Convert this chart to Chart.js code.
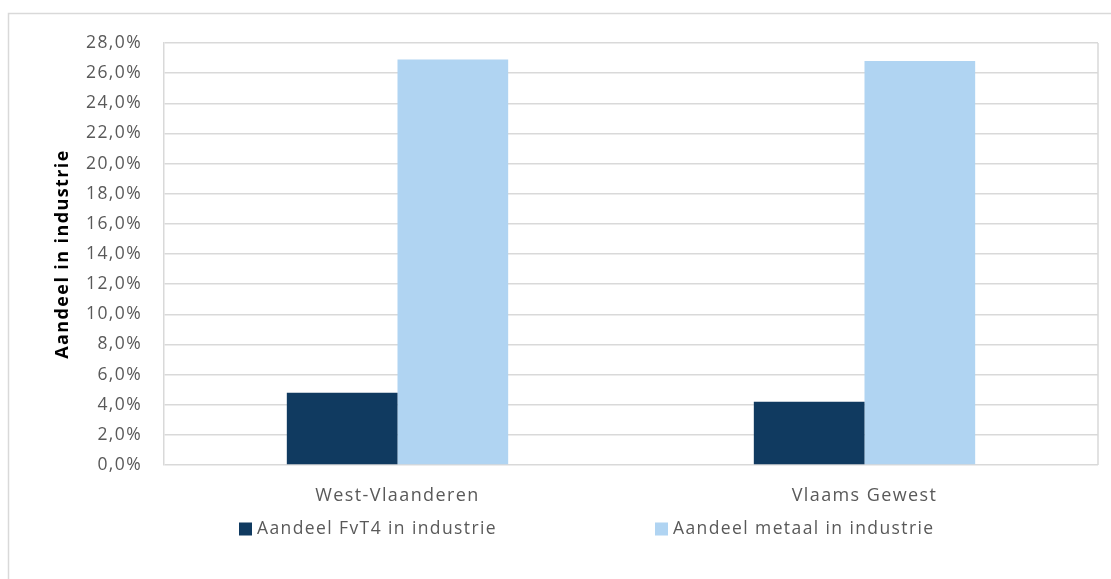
<!DOCTYPE html>
<html>
<head>
<meta charset="utf-8">
<script src="https://cdn.jsdelivr.net/npm/chart.js@4.4.1/dist/chart.umd.min.js"></script>
<style>
  html, body { margin: 0; padding: 0; background: #ffffff; }
  #wrap { position: relative; width: 1111px; height: 579px; }
</style>
</head>
<body>
<div id="wrap"><canvas id="c" width="1111" height="579"></canvas></div>
<script>
// Regions compared
const categories = ['West-Vlaanderen', 'Vlaams Gewest'];
// Share of FvT4 within industry (%)
const fvt4Share = [4.8, 4.2];
// Share of metal within industry (%)
const metalShare = [26.9, 26.8];
const seriesNames = ['Aandeel FvT4 in industrie', 'Aandeel metaal in industrie'];
const yTicks = [0, 2, 4, 6, 8, 10, 12, 14, 16, 18, 20, 22, 24, 26, 28];
const yTitle = 'Aandeel in industrie';

const FONT = '"Open Sans", Lato, sans-serif';
const GRID = '#d9d9d9';
const TEXT = '#595959';
const COLORS = ['#103a60', '#b0d4f2'];

// Outer chart frame, right border of the plot and the bottom legend
const decor = {
  id: 'decor',
  beforeDraw(chart) {
    const ctx = chart.ctx;
    ctx.letterSpacing = '1.4px';
    ctx.save();
    ctx.fillStyle = '#ffffff';
    ctx.fillRect(0, 0, chart.width, chart.height);
    ctx.strokeStyle = GRID;
    ctx.lineWidth = 1.5;
    ctx.beginPath();
    ctx.moveTo(8.5, chart.height + 5);
    ctx.lineTo(8.5, 13.5);
    ctx.lineTo(chart.width + 5, 13.5);
    ctx.stroke();
    ctx.restore();
  },
  beforeDatasetsDraw(chart) {
    const { ctx, chartArea } = chart;
    ctx.save();
    ctx.strokeStyle = GRID;
    ctx.lineWidth = 1.5;
    ctx.beginPath();
    ctx.moveTo(chartArea.right, chartArea.top);
    ctx.lineTo(chartArea.right, chartArea.bottom);
    ctx.stroke();
    ctx.restore();
  },
  afterDraw(chart) {
    const ctx = chart.ctx;
    const items = chart.data.datasets.map((d) => ({ label: d.label, color: d.backgroundColor }));
    const xs = [239, 655];
    const yc = 529;
    ctx.save();
    ctx.font = '17.5px ' + FONT;
    ctx.textBaseline = 'middle';
    ctx.textAlign = 'left';
    items.forEach((it, i) => {
      ctx.fillStyle = it.color;
      ctx.fillRect(xs[i], yc - 6.5, 13, 13);
      ctx.fillStyle = TEXT;
      ctx.fillText(it.label, xs[i] + 18, yc);
    });
    ctx.restore();
  }
};

new Chart(document.getElementById('c'), {
  type: 'bar',
  data: {
    labels: categories,
    datasets: [
      { label: seriesNames[0], data: fvt4Share, backgroundColor: COLORS[0], borderWidth: 0 },
      { label: seriesNames[1], data: metalShare, backgroundColor: COLORS[1], borderWidth: 0 }
    ]
  },
  options: {
    responsive: false,
    animation: false,
    events: [],
    layout: { padding: { left: 48, top: 43, right: 13, bottom: 74 } },
    datasets: { bar: { categoryPercentage: 0.474, barPercentage: 1.0 } },
    plugins: { legend: { display: false }, tooltip: { enabled: false } },
    scales: {
      x: {
        grid: { display: false, drawTicks: false },
        border: { display: false },
        ticks: { color: TEXT, font: { family: FONT, size: 18 }, padding: 20 },
        afterFit(scale) { scale.height = 40; }
      },
      y: {
        min: 0,
        max: 28,
        afterBuildTicks(scale) { scale.ticks = yTicks.map((v) => ({ value: v })); },
        grid: { color: GRID, lineWidth: 1.5, drawTicks: false },
        border: { display: true, color: GRID, width: 1.5 },
        ticks: {
          color: TEXT,
          font: { family: FONT, size: 17.5 },
          padding: 22,
          callback: (v) => v.toFixed(1).replace('.', ',') + '%'
        },
        title: {
          display: true,
          text: yTitle,
          color: '#000000',
          font: { family: FONT, size: 18, weight: 'bold' },
          padding: { top: 4, bottom: 4 }
        },
        afterFit(scale) { scale.width = 116; }
      }
    }
  },
  plugins: [decor]
});
</script>
</body>
</html>
